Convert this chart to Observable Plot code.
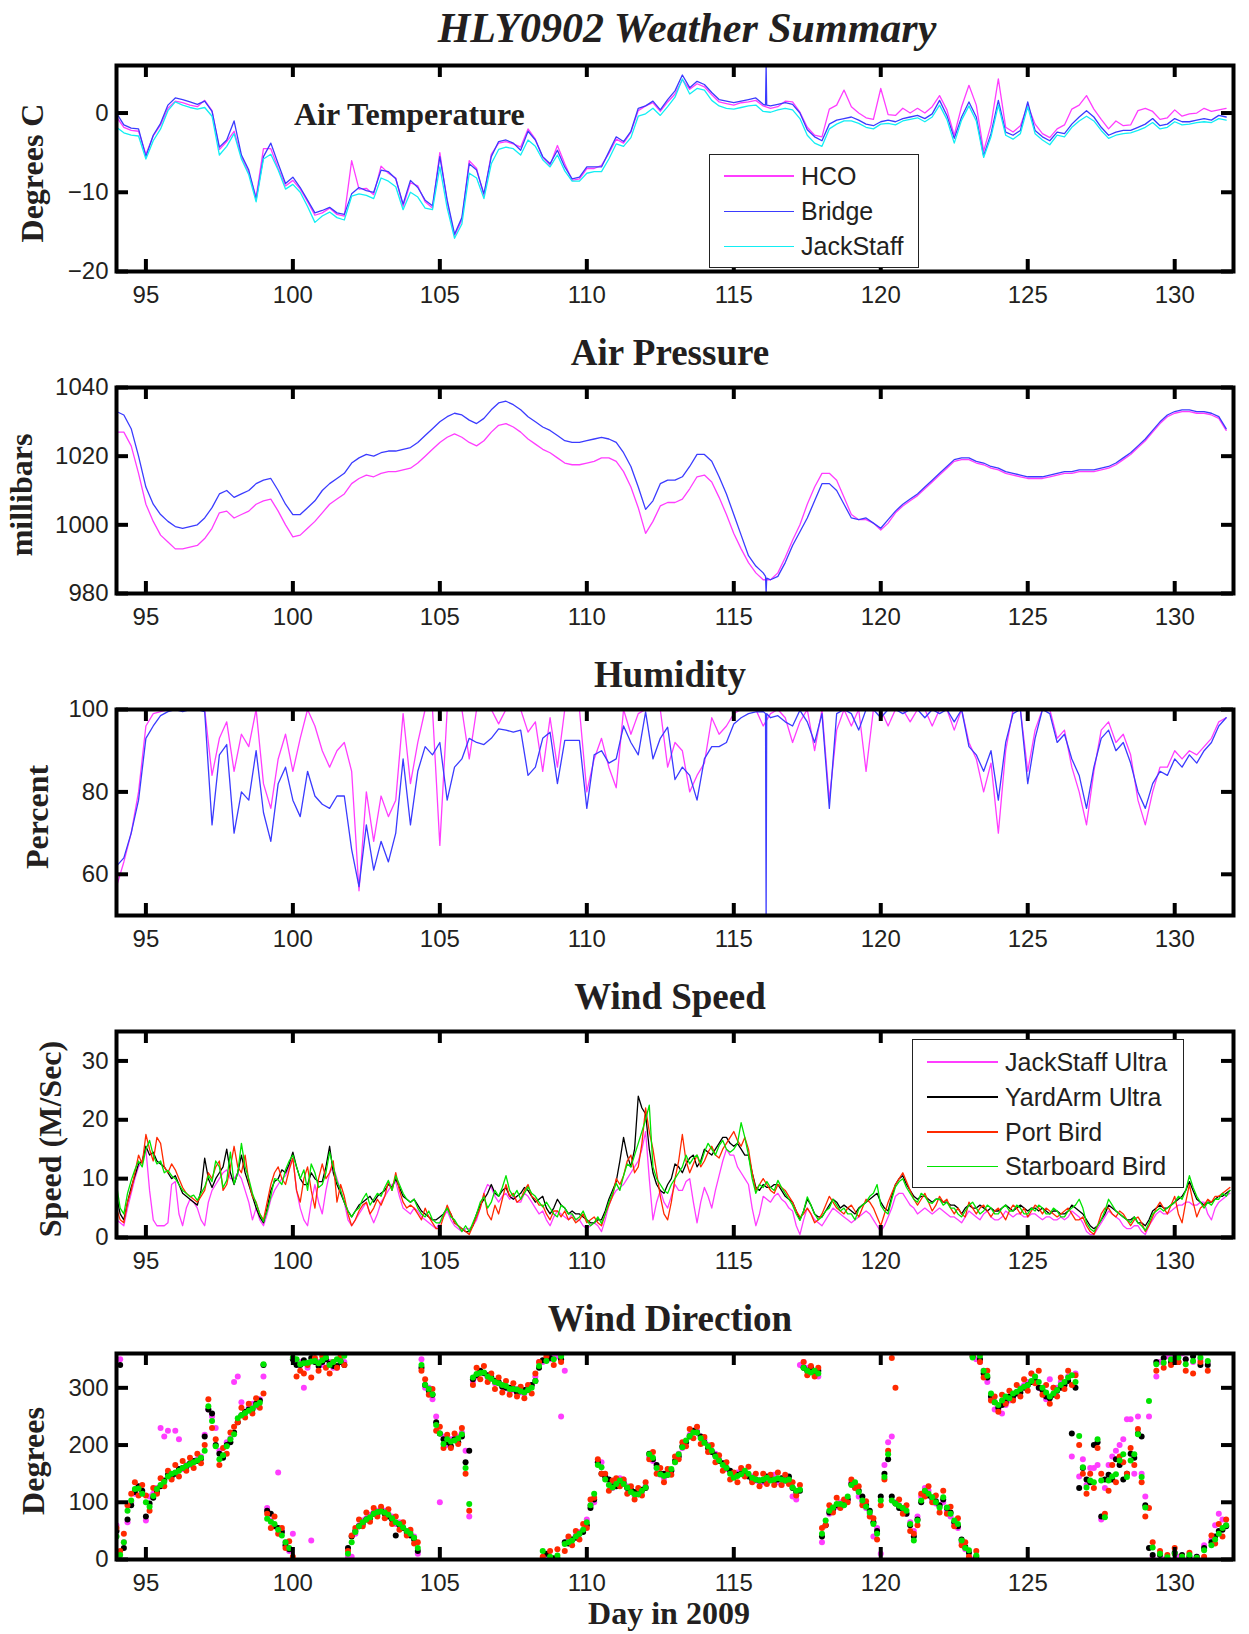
<!DOCTYPE html>
<html>
<head>
<meta charset="utf-8">
<script src="https://cdn.jsdelivr.net/npm/d3@7"></script>
<script src="https://cdn.jsdelivr.net/npm/@observablehq/plot@0.6"></script>
<style>
  body { margin: 0; background: #fff; }
  #page { position: relative; width: 1249px; height: 1634px; overflow: hidden; background: #fff; color: #231f20; }
  .ttl { position: absolute; font-family: "Liberation Serif", "Times New Roman", serif; font-weight: bold; white-space: nowrap; line-height: 1; transform: translateX(-50%); }
  .ylab { position: absolute; font-family: "Liberation Serif", "Times New Roman", serif; font-weight: bold; font-size: 32px; line-height: 32px; white-space: nowrap; transform: translate(-50%, -50%) rotate(-90deg); }
  .panel { position: absolute; left: 0; }
  .legend { position: absolute; box-sizing: border-box; border: 1px solid #222; background: #fff; }
  .lgline { position: absolute; height: 1.5px; }
  .lgtext { position: absolute; font-family: "Liberation Sans", Arial, sans-serif; font-size: 25px; line-height: 25px; white-space: nowrap; color: #231f20; }
</style>
</head>
<body>
<div id="page"></div>
<script>
// ---------------- DATA ----------------
const START_DAY = 94;          // first sample (day in 2009)
const LINE_STEP = 0.25;        // sampling step of temperature / pressure / humidity
const FINE_STEP = 0.125;       // sampling step of wind speed / direction

const xTicks = [95, 100, 105, 110, 115, 120, 125, 130];

const mainTitle = "HLY0902 Weather Summary";
const panelTitles = ["Air Temperature", "Air Pressure", "Humidity", "Wind Speed", "Wind Direction"];
const yLabels = ["Degrees C", "millibars", "Percent", "Speed (M/Sec)", "Degrees"];
const xLabel = "Day in 2009";

const tempSeries = ["HCO", "Bridge", "JackStaff"];
const windSeries = ["JackStaff Ultra", "YardArm Ultra", "Port Bird", "Starboard Bird"];

const tempTicks = [-20, -10, 0];
const pressTicks = [980, 1000, 1020, 1040];
const humTicks = [60, 80, 100];
const speedTicks = [0, 10, 20, 30];
const dirTicks = [0, 100, 200, 300];

// single-sample glitch of the Bridge sensors
const glitchDays = [116.08, 116.1, 116.12];
const glitchTemp = [1.0, 6, 1.0];
const glitchPress = [985, 980, 984.5];
const glitchHum = [99, 50, 99];

// Air temperature (deg C), four samples per day
const tempHCO = [
 -0.5,-1.8,-2.2,-2.3, -5.2,-2.9,-1.5,0.6, 1.5,1.3,1.0,0.8, 1.6,0.3,-4.6,-3.6,
 -2.3,-5.5,-7.5,-10.6, -4.5,-4.5,-7.0,-9.2, -8.5,-9.6,-11.2,-12.9, -12.6,-12.0,-12.8,-13.0,
 -6.0,-9.6,-9.5,-10.3, -6.7,-7.6,-8.2,-11.8, -8.8,-9.2,-11.2,-12.0, -5.0,-11.3,-15.5,-13.5,
 -6.0,-7.0,-10.5,-5.2, -3.8,-3.6,-3.9,-4.3, -2.0,-3.3,-5.6,-6.6, -4.1,-6.4,-8.5,-8.3,
 -7.0,-7.0,-6.6,-5.1, -3.3,-3.8,-2.4,0.3, 0.9,1.3,0.2,1.4, 2.4,4.2,3.0,3.7,
 3.3,2.3,1.4,1.2, 1.0,1.3,1.4,1.6, 0.9,0.6,0.8,1.5, 1.4,0.1,-1.8,-2.8,
 -3.0,0.5,1.0,2.9, 0.8,0.0,-0.6,-0.8, 3.1,-0.2,-0.3,0.6, 0.0,0.6,0.0,0.8,
 2.2,0.4,-2.8,0.8, 3.5,1.0,-4.8,-1.5, 4.3,-1.8,-2.4,-1.6, 1.0,-1.4,-2.6,-3.1,
 -2.0,-1.5,0.5,1.0, 2.2,0.5,-0.8,-2.0, -1.0,-1.6,-1.5,0.3, 0.6,0.2,-0.8,-0.6,
 0.4,-0.4,-0.1,0.0, 0.6,0.2,0.4,0.6
];
const tempBridge = [
 0,-1.5,-1.9,-2.0, -5.5,-2.8,-1.3,1.0, 1.9,1.7,1.4,1.1, 1.5,0.2,-4.3,-3.4,
 -1.0,-5.3,-7.2,-10.9, -5.5,-3.8,-6.4,-8.9, -8.1,-9.4,-11.0,-12.6, -12.3,-11.9,-12.6,-12.8,
 -10.2,-9.4,-9.8,-10.0, -7.2,-7.4,-8.3,-11.5, -8.5,-9.4,-11.0,-11.7, -5.5,-11.0,-15.3,-13.2,
 -6.4,-7.2,-10.2,-5.5, -3.6,-3.4,-3.8,-4.7, -2.3,-3.4,-5.5,-6.4, -4.7,-6.8,-8.3,-8.1,
 -6.8,-6.8,-6.8,-4.9, -3.0,-3.6,-2.3,0.6, 0.9,1.5,0.4,1.7, 2.8,4.8,3.2,4.0,
 3.6,2.6,1.7,1.5, 1.3,1.5,1.7,1.9, 1.1,0.9,1.1,1.3, 1.1,0.0,-2.1,-3.0,
 -3.5,-1.4,-0.9,-0.7, -0.5,-0.9,-1.4,-1.6, -1.1,-0.9,-1.1,-0.7, -0.5,-0.3,-0.7,-0.1,
 1.6,-0.3,-3.2,-0.5, 1.4,-0.5,-5.4,-2.6, 1.6,-2.4,-2.8,-2.2, 1.4,-2.2,-3.0,-3.5,
 -2.4,-2.6,-1.4,-0.5, 0.3,-0.5,-1.8,-2.8, -2.4,-2.2,-2.2,-1.8, -1.4,-0.7,-1.6,-1.4,
 -0.7,-1.1,-1.1,-0.9, -0.7,-0.9,-0.3,-0.5
];
const tempJack = [
 -1.8,-2.5,-2.8,-2.9, -5.8,-3.5,-2.0,0.3, 1.4,1.0,0.7,0.5, 0.7,-0.4,-5.3,-4.2,
 -2.6,-5.8,-7.8,-11.2, -5.8,-5.2,-7.2,-9.6, -9.0,-10.0,-11.8,-13.8, -13.0,-12.5,-13.2,-13.5,
 -10.5,-10.2,-10.4,-10.8, -8.2,-8.6,-9.3,-12.2, -10.0,-10.6,-12.0,-12.2, -6.8,-12.0,-15.8,-14.0,
 -7.6,-8.2,-10.8,-6.4, -4.6,-4.3,-4.5,-5.3, -3.4,-4.2,-5.9,-6.8, -5.3,-7.3,-8.6,-8.6,
 -7.6,-7.4,-7.4,-5.8, -3.9,-4.2,-3.1,-0.4, -0.1,0.6,-0.3,0.8, 2.0,4.3,2.4,3.1,
 2.9,1.6,0.9,0.6, 0.5,0.7,0.9,1.0, 0.2,0.1,0.4,0.6, 0.4,-0.7,-2.8,-3.8,
 -4.2,-2.0,-1.4,-1.0, -1.0,-1.3,-1.8,-2.0, -1.4,-1.3,-1.5,-1.0, -0.8,-0.6,-1.1,-0.5,
 1.0,-0.8,-3.8,-0.9, 0.9,-1.0,-5.6,-3.0, 1.0,-2.8,-3.3,-2.6, 0.8,-2.6,-3.4,-4.0,
 -2.8,-3.0,-1.8,-1.0, -0.4,-1.0,-2.2,-3.2, -2.8,-2.6,-2.5,-2.2, -1.8,-1.2,-2.0,-1.8,
 -1.1,-1.5,-1.4,-1.2, -1.1,-1.2,-0.7,-0.9
];

// Air pressure (mbar)
const pressHCO = [
 1027,1027,1023,1015, 1006,1001,997,995, 993,993,993.5,994, 996,999,1003.5,1004,
 1002,1003,1004,1006, 1007,1007.5,1004,1000, 996.5,997,999,1001, 1003.5,1006,1007.5,1009,
 1012,1013.5,1014.5,1014, 1015,1015.5,1015.5,1016, 1016.5,1018,1020,1022, 1024,1025.5,1026.5,1025.5,
 1024,1023,1024.5,1027, 1029,1029.5,1028.5,1027, 1025,1023.5,1022,1021, 1019.5,1018,1017.5,1017.5,
 1018,1018.5,1019.5,1019.5, 1018.5,1015.5,1011,1005, 997.5,1001,1005.5,1006.5, 1006.5,1007.5,1010.5,1014,
 1014.5,1012.5,1008,1003, 997.5,993,989,986, 984,984,986,990.5, 995.5,1000,1006,1011,
 1015,1015,1013,1008, 1003,1001.5,1001.5,1000.5, 998.5,1000.5,1003.5,1005.5, 1007,1008.5,1010.5,1012.5,
 1014.5,1016.5,1018.5,1019, 1019,1018,1017.5,1016.5, 1016,1015,1014.5,1014, 1013.5,1013.5,1013.5,1014,
 1014.5,1015,1015,1015.5, 1015.5,1015.5,1016,1016.5, 1017.5,1019,1020.5,1022.5, 1024.5,1027,1029.5,1031.5,
 1032.5,1033,1033,1032.5, 1032.5,1032,1031,1027.5
];
const pressBridge = [
 1033,1032,1028,1020, 1011,1006,1003,1001, 999.5,999,999.5,1000, 1002,1005,1009,1010,
 1008,1009,1010,1012, 1013,1013.5,1010,1006, 1003,1003,1005,1007, 1010,1012,1013.5,1015,
 1018,1019.5,1020.5,1020, 1021,1021.5,1021.5,1022, 1022.5,1024,1026,1028, 1030,1031.5,1032.5,1032,
 1030.5,1029.5,1031,1033.5, 1035.5,1036,1035,1033.5, 1031.5,1030,1028.5,1027.5, 1026,1024.5,1024,1024,
 1024.5,1025,1025.5,1025, 1024,1021,1017,1011, 1004.5,1007,1012,1013, 1013,1014,1017,1020.5,
 1020.5,1018.5,1014,1009, 1003,997,991,988, 986,984,985,989, 994,998,1002,1007,
 1012,1012,1010,1006, 1002,1001.5,1002,1000.5, 999,1001.5,1004,1006, 1007.5,1009,1011,1013,
 1015,1017,1019,1019.5, 1019.5,1018.5,1018,1017, 1016.5,1015.5,1015,1014.5, 1014,1014,1014,1014.5,
 1015,1015.5,1015.5,1016, 1016,1016,1016.5,1017, 1018,1019.5,1021,1023, 1025,1027.5,1030,1032,
 1033,1033.5,1033.5,1033, 1033,1032.5,1031.5,1028
];

// Relative humidity (%)
const humHCO = [
 57,63,70,80, 96,99,99.5,100, 100,100,100,100, 100,84,93,97,
 85,94,91,100, 82,76,88,94, 85,93,100,96, 90,86,90,92,
 85,56,80,68, 79,74,78,99, 82,92,100,100, 67,100,100,100,
 88,100,100,100, 96.5,100,100,100, 94.5,97,85,98, 86,100,100,100,
 80,88,93,86, 81,100,94,99, 100,100,100,86, 92,90,80,84,
 87,98,94,96, 99,100,100,100, 96,99,100,98, 92,97,100,90,
 100,78,95,100, 96,100,85,100, 100,96,100,100, 97,100,100,96,
 100,100,95,100, 92,88,80,87, 70,90,100,100, 85,95,100,100,
 93,95,86,80, 72,85,95,97, 92,94,89,78, 72,80,86,86,
 90,88,90,89, 91,93,97,98
];
const humBridge = [
 62,64,70,78, 93,96,98.5,99.5, 100,99.5,100,100, 99.5,72,89,91.5,
 70,80,78,90, 75,68,82,86, 78,74,85,79, 77,76,79,79,
 66,57,72,61, 68,63,70,88, 72,85,91,89, 92,78,86,88,
 93,92,91.5,93, 95.3,95,94.5,95, 84,86,93,94.5, 82,92.5,92.5,92.5,
 76,89,90,87, 88,96,92,89, 99.4,88,93,95.7, 83,86,84,78,
 88,91,91,92, 96.5,98,99,99.4, 99.5,98,98.5,97, 96,99.8,97,92,
 99,76,99,100, 99,95,100,100, 98,100,100,99, 100,100,98,100,
 99,100,97,100, 91,89,85,90, 78,92,99,100, 82,93,100,99,
 92,94,88,84, 76,86,93,95, 90,92,87,80, 76,82,85,84,
 88,86,89,87, 90,92,96,98
];

// Wind speed (m/s), eight samples per day
const speedJack = [
 3,2.5,2,5,7.5,10,12,13, 15,8,3,2,2,2,2.5,9, 9.5,4,2,5,6.5,6,5,3, 2,6,8,9,10,11,11.5,10,
 10,11,10,8,6,3,5,3, 2,4,6.5,8,9,10,10.5,12, 13.5,8,5,3,2,6,9,6, 4,8,11,12,10,8,6,3,
 2,3,4,5,6,4,2.5,4, 6,7,8,9,9.5,7,5,4.5, 4,5,4.5,3.5,3,2.5,2,1.5, 2.5,3.5,4.5,3,2,1.5,1,1.5,
 1.5,2,3,5,7.5,9,8.5,7, 6,7,7.5,6.5,7,6,6,7.5, 7,6,5,4,4.5,3,2,3.5, 4.5,4,3.5,3,4,3,3,2,
 1.5,2,2.5,2,1,3,5.5,7, 8,8.5,9,10,11,12,13,15, 18,10,3,6,8,6,5,7, 9,8,8,9.5,10,6,2.5,6,
 8.5,7,5,8,10.5,13,15,14, 14,12,11,10,9,5,2,4, 7,6.5,6,7,7.5,6.5,6,5, 4.5,2,0.5,3,5,4,3,2.5,
 2,3,4,5,4.5,4,3.5,3, 2.5,3,3.5,4,4.5,4,3,2, 1,2,3.5,5,7,7.5,7.5,6.5, 5.5,5,4,4.5,5,4.5,4,4.5,
 5,4.5,4,3.5,3.5,3,2.5,3.5, 4.5,4,3.5,3,4,4.5,3.5,3, 3,3.5,4.5,4,3.5,4,4,3.5, 3.5,4,4,3.5,3,3.5,3.5,3,
 3,3.5,3,3.5,4.5,4,3.5,2.5, 1,0.5,0.5,1.5,2.5,3.5,4.5,4, 3.5,3,2,1.5,1.5,2,2,1, 0.5,2,3,4,4.5,4,4,4.5,
 5,5.5,5.5,6,6,5.5,5.5,6, 6,4,3,5,6,6.5,7,7.5
];
const speedYard = [
 7,4,3,6,8.5,10.5,12.5,13, 15.5,14,14.5,13,12.5,12,11,10, 10.5,9,7.5,7,6.5,6,5.5,8, 13.5,10,8.5,10,11,12,15,11,
 9,11,14,11,9,7,5,3.5, 2.5,5,8,9.5,10,11.5,11,12.5, 14.5,12,10,9,9,11,10,9.5, 9.5,12,15.5,11,9,7.5,6,4.5,
 3.5,4.5,5.5,6,6.5,7,6,7, 7.5,8,9,8.5,10,8.5,7,6.5, 6,6.5,5.5,4.5,4,3.5,3,3, 3.5,4,5,4,2.5,2,1.5,1,
 1,2,4,5.5,6.5,7.5,9,7.5, 7,8,8.5,7,6.5,7,7.5,8.5, 8,7,6,6.5,7,5,4,5, 6.5,5.5,5,4,4.5,4,4,3.5,
 3,2.5,2.5,3,3,4.5,6.5,8, 9.5,13,17,14,12,15,24,22, 21,15,11,9,8,7.5,9,10, 12.5,12,11,12.5,13.5,14,12,13,
 15,14.5,14,15,16,17,17,16, 15.5,16,15,14,14,11,8.5,8, 9,8.5,8.5,9,9,8,7,6.5, 6,4.5,3,4.5,6.5,5.5,4,3.5,
 3.5,4.5,5.5,6.5,6,5,5.5,5, 4.5,4,5,5.5,6,6.5,7,7.5, 6,5,4.5,7,9,10,10.5,9, 8,7,6.5,7,7,6.5,6,6.5,
 6.5,6,6,5.5,5.5,5,4,5, 5.5,5,5,5.5,5,4.5,5,4.5, 4.5,5,5.5,5,4.5,5,5.5,5, 4.5,5,5,4.5,5,4.5,4,4.5,
 4.5,4,4,4.5,5.5,5,4.5,4, 3,2,1.5,2,3,4,5.5,5, 4.5,4,3.5,3,3,3.5,2.5,2.5, 2,3,4.5,5,5.5,5,5,5.5,
 6,6.5,7,8,9.5,8,6.5,6, 5.5,6,6,6.5,7,7,7.5,8
];
const speedPort = [
 5,3,2.5,6,8,11,14,12.5, 17.5,15,13,17,16,12,11,12.5, 11.5,10,8.5,7.5,7,6.5,6,7, 8,11,10,12,13,8,9,12,
 15.5,12,11,14,9.5,7,6,4, 3,6,9,11,12,10,9,11.5, 13.5,8,6,10,12,8,5,10, 12.5,10,11,13,6,9,7,4,
 2,3,4.5,5.5,6,4,5,6.5, 5.5,7,9.5,8,11,8,6,5, 5.5,5,4,3,5,3.5,2.5,1.5, 1.5,3.5,5.5,4,2.5,2,1.5,1,
 0.5,2,3.5,5,7.5,4,3,5.5, 4,6.5,9,7,7.5,6,6.5,8, 9,7,6.5,5.5,5.5,4,3,4.5, 4.5,3.5,4.5,3,3.5,2.5,3,4,
 2.5,3,3.5,2.5,2,4,5.5,7, 10,9,10.5,13,14,11,12,16, 22,18,15,11,7,4,3,6, 10,13,17.5,13,11,12.5,14,12,
 13,14.5,15.5,14,13.5,15,16,17, 18,16.5,15.5,17,15,11,8,9, 10,9,8,7.5,9,8.5,8,7, 6,4.5,3.5,4,5,4,2.5,3,
 4,5.5,7,6,5,4.5,4,5, 5.5,4.5,3.5,5,6.5,6,5,3.5, 2,4,6,7.5,9,10,11,9.5, 8,6.5,5.5,6.5,7.5,6,4.5,5.5,
 7,6,6.5,5,4,5,4,3.5, 6,5,4,5,5.5,4.5,3.5,4.5, 5,4,3,4.5,5.5,5,4,5, 3.5,4.5,5.5,5,4,5,4.5,4,
 3.5,4,4.5,5,4,3,3,3.5, 2,1,0.5,2,4,5,5,4, 3.5,4.5,4,3,2,3,3.5,2.5, 1,2,3.5,5,6,5,4,5.5,
 7,4,2.5,6,9,6,3.5,5, 5.5,6.5,6,7,7,7.5,8,8.5
];
const speedStar = [
 9,5,4,7.5,9.7,11.5,13,12, 15,16.5,14,12.5,13,11,11.4,10.5, 10,9,8,7.5,6.9,7.2,6.3,7.5, 8.6,10.5,9.5,13,12,8.5,9.7,14.5,
 9.1,11,16,12,10,7.5,5.8,4, 2.7,4.5,7,10,9.8,9,11.5,13, 14,12,10,11.5,8,12.5,11,8.5, 9,11,14.5,12,9.5,8,6,4.5,
 3.5,4.5,5,6.5,7.5,5.5,6.5,7.5, 7,8.5,9.7,8,10.5,9,7.5,6.5, 6,6.5,5,4,3.5,4.5,3,2.5, 2.5,4,5,3.5,3,2,1,2,
 1,2.5,4,6,6.9,5,6,8, 7,8.5,10.5,8,7,8,6.5,7.5, 8.6,7.5,7,6,5.2,6,5,4, 3.5,5.5,5,4,4,3,3.5,4.5,
 3,2,2.5,3.5,2.4,4,6,7.5, 9.2,8,10.5,12.5,12,14,16,18, 20,22.5,12,10,9,8,7.5,9, 10,11,12,14,12.5,13.5,14,12.5,
 14.5,16,15,14,15.6,16.5,15,14.5, 15,16,19.5,17,14,10,7.5,9, 8.5,9.5,8.5,8,9.7,8.5,7.5,6.5, 5.5,4,2.9,4.5,6.9,5.5,4,3,
 3.5,4.5,5,6.5,5.5,4.5,5,4, 4,3,4.8,5.5,6,7,7.5,9, 5.5,4.5,4,6.5,8.6,9.5,10,8.5, 7.5,6.5,6,7.5,7,6,5.8,6.5,
 6.5,5.5,6,5,5,4,3.5,4.5, 5.5,6,5,4,4.5,5.5,5,4, 4,5,5.5,4.5,4.5,5.5,5,4, 4,5,4.5,5.5,5,4,4,5,
 4.5,3.5,3.5,4.5,5,5.5,6.5,5, 2.5,1.5,1,2,3,4.5,6.5,5.5, 4.5,4,3.5,3,2.5,3.5,2.5,2, 1.2,2.5,4,4.5,5,4.5,5,5.5,
 6,7,6.5,8,10.5,8.5,7,6, 5,6,5.5,6.5,6.5,7.5,7,8
];

// Wind direction (degrees), eight samples per day
const dirJack = [
 60,350,30,65,100,115,125,118, 68,110,115,125,230,215,225,148, 225,210,158,165,165,170,175,180, 218,262,250,230,190,180,205,212,
 310,320,275,255,265,272,268,280, 320,90,68,60,152,50,30,15, 45,345,345,300,335,33,350,345, 340,355,345,335,335,350,345,5,
 5,45,60,68,72,78,82,85, 88,85,80,75,62,65,55,45, 48,40,10,350,300,300,280,250, 100,215,200,210,212,215,222,190,
 75,310,320,328,325,318,316,308, 308,302,300,295,296,298,292,290, 300,305,320,345,345,5,350,355, 355,250,330,35,35,42,48,50,
 70,95,100,170,170,145,138,125, 130,142,140,128,120,112,115,118, 128,180,172,160,148,142,150,155, 170,185,195,205,218,225,225,215,
 210,200,190,185,175,168,158,152, 145,152,155,150,148,145,138,135, 135,140,145,148,135,130,140,142, 110,105,340,345,335,335,330,320,
 30,60,80,90,92,100,98,105, 135,125,110,100,90,80,40,55, 10,165,205,215,100,95,90,80, 65,50,75,110,125,120,105,98,
 92,100,85,75,60,55,30,18, 5,0,350,345,330,310,280,262, 262,255,270,278,280,290,300,305, 310,325,318,300,295,280,315,300,
 300,310,305,320,180,325,145,175, 130,160,160,165,70,125,165,180, 190,200,210,245,245,150,250,150, 110,250,5,320,345,0,355,360,
 355,5,360,350,2,345,5,350, 25,345,35,60,80,70,60,null
];
const dirYard = [
 50,340,20,70,95,118,128,120, 75,98,108,118,128,138,148,145, 150,158,160,162,168,172,172,176, 215,262,255,200,185,178,200,205,
 222,240,252,258,262,262,272,278, 340,85,80,58,55,48,25,18, 350,340,340,348,342,352,345,338, 345,350,342,338,338,345,340,20,
 40,50,58,62,70,72,80,80, 85,80,75,70,42,60,55,48, 42,35,15,335,305,295,288,240, 220,210,205,198,210,205,215,170,
 190,315,322,330,326,322,318,312, 310,302,300,300,298,292,294,296, 296,305,312,335,348,10,352,2, 2,350,30,28,35,38,45,48,
 60,90,105,170,150,145,140,128, 128,135,135,125,122,118,114,122, 125,185,175,165,150,150,148,155, 172,180,198,205,215,225,222,215,
 205,195,188,182,172,168,160,155, 145,148,150,152,145,140,140,138, 138,145,142,138,140,142,138,145, 125,118,120,335,330,335,328,330,
 40,60,82,88,95,92,96,105, 132,128,120,110,95,85,65,50, 110,150,175,110,98,90,88,80, 60,40,70,100,118,112,108,102,
 95,105,90,82,65,58,35,22, 12,355,5,350,325,318,285,275, 265,270,275,285,285,290,292,300, 305,310,312,300,296,285,282,288,
 295,300,305,312,220,300,125,160, 140,135,200,205,75,140,148,140, 175,165,140,150,185,178,220,215, 95,20,8,345,8,352,2,345,
 12,345,8,350,5,355,5,340, 20,340,30,40,50,52,58,null
];
const dirPort = [
 55,15,45,95,115,135,112,130,  112,85,125,115,142,128,155,140,
 165,145,172,155,178,160,185,168,  200,280,230,210,165,195,185,222,
 232,240,265,248,272,255,282,265,  290,80,55,75,45,55,20,32,
 5,320,330,325,340,318,352,330,  355,335,325,345,335,355,340,15,
 42,55,70,58,82,66,90,75,  92,72,88,62,75,52,65,42,
 52,28,30,330,315,288,298,225,  232,195,218,195,220,202,230,150,
 85,305,335,315,338,310,325,298,  318,292,312,288,308,285,302,282,
 305,290,325,345,5,355,15,340,  18,345,15,40,25,50,35,62,
 55,105,108,175,150,150,120,138,  142,128,140,115,128,105,125,112,
 135,175,188,150,160,135,158,148,  180,175,205,198,228,212,232,202,
 214,188,200,170,182,155,170,140,  152,135,160,145,162,135,150,128,
 150,132,148,130,152,130,148,132,  135,112,130,345,322,338,320,335,
 55,60,95,82,108,90,105,100,  140,125,128,95,102,75,72,35,
 95,140,190,352,300,105,80,95,  50,45,60,115,110,128,100,112,
 82,120,80,92,58,72,25,30,  5,358,15,345,318,330,278,285,
 258,288,272,295,278,305,285,315,  295,325,308,330,288,305,272,300,
 285,318,298,330,305,322,200,150,  115,150,125,195,150,80,120,165,
 135,180,170,150,195,165,228,135,  75,90,30,330,15,335,8,340,
 20,345,5,330,12,325,2,345,  5,330,42,28,62,40,70,null
];
const dirStar = [
 40,8,30,85,103,123,124,115,  100,92,111,123,130,136,145,150,
 152,155,160,164,167,170,173,178,  190,268,242,198,175,182,198,210,
 219,247,252,256,260,264,270,274,  341,71,66,62,52,42,30,20,
 353,350,341,343,344,346,347,343,  348,353,340,345,350,347,356,10,
 30,48,58,65,70,74,80,83,  84,82,78,72,65,62,56,50,
 45,38,20,340,305,298,289,235,  220,202,210,206,208,212,219,160,
 97,318,324,326,327,320,316,310,  308,305,303,298,298,297,294,292,
 296,300,312,338,15,347,5,350,  7,355,27,30,33,40,45,52,
 65,95,115,165,161,140,130,126,  132,138,132,126,118,114,114,120,
 126,184,178,160,149,146,148,158,  170,184,196,208,216,222,222,212,
 204,198,190,180,173,165,160,150,  143,146,149,155,150,143,140,138,
 140,143,138,140,142,140,138,140,  126,120,122,335,330,327,330,325,
 45,68,85,91,97,97,95,110,  130,135,118,103,92,82,62,45,
 103,144,184,103,98,94,90,85,  62,33,68,103,120,115,109,100,
 91,109,91,80,68,62,33,20,  16,353,7,356,330,321,290,275,
 270,278,285,282,290,293,298,302,  305,312,320,310,300,292,285,290,
 296,305,310,318,322,310,216,161,  126,138,135,210,138,74,138,145,
 149,173,184,144,173,184,219,144,  91,277,21,341,10,344,4,350,
 10,353,5,341,8,347,3,353,  16,347,25,35,45,55,60,null
];

// ---------------- STYLE ----------------
const C_MAG = "#ff3dff", C_BLUE = "#3b3bff", C_CYAN = "#12eef4",
      C_BLACK = "#000000", C_RED = "#ff2a00", C_GREEN = "#00e400";
const tempColors = [C_MAG, C_BLUE, C_CYAN];
const windColors = [C_MAG, C_BLACK, C_RED, C_GREEN];

const W = 1249, ML = 116, MR = 16, MT = 10, MB = 48, FH = 206;
const FW = W - ML - MR;
const frameTops = [65, 387, 709, 1031, 1353];
const ylabCenterX = [31.6, 20.8, 36.7, 49.6, 33];

const fmt = d => (d < 0 ? "\u2212" + (-d) : String(d));

function rows(values, step, extraDays, extraVals) {
  const r = values.map((v, i) => ({day: START_DAY + i * step, v}));
  if (extraDays) {
    extraDays.forEach((d, i) => r.push({day: d, v: extraVals[i]}));
    r.sort((a, b) => a.day - b.day);
  }
  return r;
}

function line(data, color) {
  return Plot.line(data, {x: "day", y: "v", stroke: color, strokeWidth: 1.3, clip: true});
}
function dots(data, color) {
  return Plot.dot(data.filter(d => d.v != null), {x: "day", y: "v", r: 3, fill: color, stroke: "none", clip: true});
}

function panel(yDomain, yTicks, marks) {
  const tk = {stroke: "#000", strokeWidth: 4};
  return Plot.plot({
    width: W, height: MT + FH + MB,
    marginTop: MT, marginBottom: MB, marginLeft: ML, marginRight: MR,
    style: {fontFamily: "'Liberation Sans', Arial, sans-serif", fontSize: "24px", color: "#231f20", background: "transparent", overflow: "visible"},
    x: {domain: [94, 132]},
    y: {domain: yDomain},
    marks: [
      ...marks,
      Plot.tickX(xTicks, {x: d => d, insetTop: FH - 12, ...tk}),
      Plot.tickX(xTicks, {x: d => d, insetBottom: FH - 12, ...tk}),
      Plot.tickY(yTicks, {y: d => d, insetRight: FW - 12, ...tk}),
      Plot.tickY(yTicks, {y: d => d, insetLeft: FW - 12, ...tk}),
      Plot.frame({stroke: "#000", strokeWidth: 4}),
      Plot.axisX({ticks: xTicks, tickSize: 0, tickPadding: 14, tickFormat: fmt, label: null, fontSize: 24}),
      Plot.axisY({ticks: yTicks, tickSize: 0, tickPadding: 8, tickFormat: fmt, label: null, fontSize: 24})
    ]
  });
}

const panels = [
  panel([-20, 6], tempTicks, [
    line(rows(tempHCO, LINE_STEP), tempColors[0]),
    line(rows(tempBridge, LINE_STEP, glitchDays, glitchTemp), tempColors[1]),
    line(rows(tempJack, LINE_STEP), tempColors[2])
  ]),
  panel([980, 1040], pressTicks, [
    line(rows(pressHCO, LINE_STEP), C_MAG),
    line(rows(pressBridge, LINE_STEP, glitchDays, glitchPress), C_BLUE)
  ]),
  panel([50, 100], humTicks, [
    line(rows(humHCO, LINE_STEP), C_MAG),
    line(rows(humBridge, LINE_STEP, glitchDays, glitchHum), C_BLUE)
  ]),
  panel([0, 35], speedTicks, [
    line(rows(speedJack, FINE_STEP), windColors[0]),
    line(rows(speedYard, FINE_STEP), windColors[1]),
    line(rows(speedPort, FINE_STEP), windColors[2]),
    line(rows(speedStar, FINE_STEP), windColors[3])
  ]),
  panel([0, 360], dirTicks, [
    dots(rows(dirJack, FINE_STEP), windColors[0]),
    dots(rows(dirYard, FINE_STEP), windColors[1]),
    dots(rows(dirPort, FINE_STEP), windColors[2]),
    dots(rows(dirStar, FINE_STEP), windColors[3])
  ])
];

// ---------------- LAYOUT ----------------
const page = document.getElementById("page");
function addDiv(cls, text, css) {
  const d = document.createElement("div");
  d.className = cls;
  if (text != null) d.textContent = text;
  Object.assign(d.style, css);
  page.appendChild(d);
  return d;
}

panels.forEach((svg, i) => {
  const wrap = addDiv("panel", null, {top: (frameTops[i] - MT) + "px"});
  wrap.appendChild(svg);
});

addDiv("ttl", mainTitle, {left: "687px", top: "6.8px", fontSize: "42px", fontStyle: "italic"});
[1, 2, 3, 4].forEach(i => {
  addDiv("ttl", panelTitles[i], {left: "670px", top: (frameTops[i] - 53) + "px", fontSize: "37px"});
});
addDiv("ttl", panelTitles[0], {left: "294px", top: "98px", fontSize: "32px", transform: "none"});
yLabels.forEach((t, i) => {
  addDiv("ylab", t, {left: ylabCenterX[i] + "px", top: (frameTops[i] + FH / 2 + 5) + "px"});
});
addDiv("ttl", xLabel, {left: "669px", top: "1597px", fontSize: "32px"});

function legend(box, names, colors, lineX0, lineX1, textX, rowYs) {
  addDiv("legend", null, {left: box[0] + "px", top: box[1] + "px", width: box[2] + "px", height: box[3] + "px"});
  names.forEach((n, i) => {
    addDiv("lgline", null, {left: lineX0 + "px", width: (lineX1 - lineX0) + "px", top: (rowYs[i] - 0.75) + "px", background: colors[i]});
    addDiv("lgtext", n, {left: textX + "px", top: (rowYs[i] - 12.5) + "px"});
  });
}
legend([709, 154, 210, 114], tempSeries, tempColors, 724, 794, 801, [176, 211.5, 246.5]);
legend([912, 1039, 272, 149], windSeries, windColors, 927, 998, 1005, [1062, 1097, 1132, 1166.5]);
</script>
</body>
</html>
